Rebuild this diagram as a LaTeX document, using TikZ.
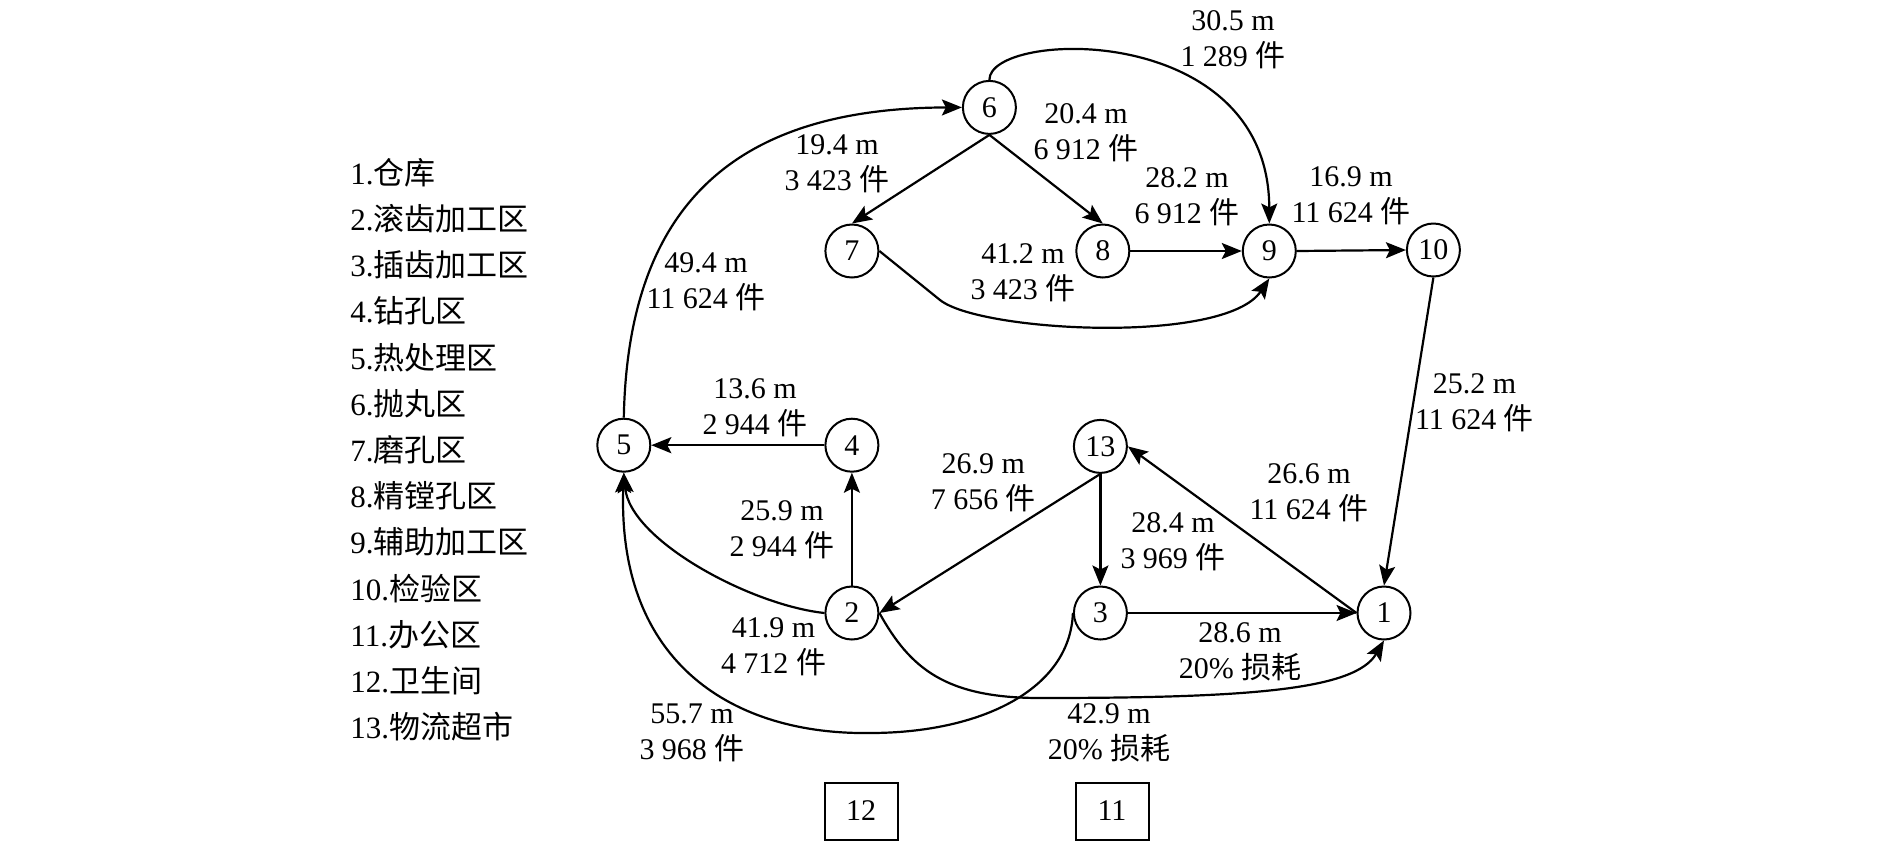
\documentclass[tikz,border=0pt]{standalone}
\usepackage{fontspec}
\setmainfont{Liberation Serif}
\newfontfamily\cjk{Noto Sans CJK SC}
\usetikzlibrary{arrows.meta}
\newcommand\zh[1]{{\cjk #1}}
\begin{document}
\begin{tikzpicture}[x=0.5pt,y=-0.5pt,
  area/.style={circle, draw, line width=1pt, minimum size=26.5pt, inner sep=0pt, font=\fontsize{15}{18}\selectfont},
  room/.style={rectangle, draw, line width=1pt, minimum width=36.5pt, minimum height=28.5pt, inner sep=0pt, font=\fontsize{15}{18}\selectfont},
  flow/.style={line width=1.1pt, -{Stealth[length=10pt,width=8pt,inset=2pt]}},
  lbl/.style={align=center, inner sep=0pt, font=\fontsize{15}{18}\selectfont},
  legend/.style={anchor=west, inner sep=0pt, font=\fontsize{15.5}{18}\selectfont}]
\useasboundingbox (0,0) rectangle (1892,842);

% legend
\node[legend] (L1)  at (350,172.5) {1.\zh{仓库}};
\node[legend] (L2)  at (350,218.7) {2.\zh{滚齿加工区}};
\node[legend] (L3)  at (350,264.9) {3.\zh{插齿加工区}};
\node[legend] (L4)  at (350,311.1) {4.\zh{钻孔区}};
\node[legend] (L5)  at (350,357.3) {5.\zh{热处理区}};
\node[legend] (L6)  at (350,403.5) {6.\zh{抛丸区}};
\node[legend] (L7)  at (350,449.7) {7.\zh{磨孔区}};
\node[legend] (L8)  at (350,495.9) {8.\zh{精镗孔区}};
\node[legend] (L9)  at (350,542.1) {9.\zh{辅助加工区}};
\node[legend] (L10) at (350,588.3) {10.\zh{检验区}};
\node[legend] (L11) at (350,634.5) {11.\zh{办公区}};
\node[legend] (L12) at (350,680.7) {12.\zh{卫生间}};
\node[legend] (L13) at (350,726.9) {13.\zh{物流超市}};

% areas
\node[area] (n6)  at (989.4,107.4) {6};
\node[area] (n7)  at (851.9,251) {7};
\node[area] (n8)  at (1102.8,251) {8};
\node[area] (n9)  at (1269.3,251) {9};
\node[area] (n10) at (1433.4,250) {10};
\node[area] (n5)  at (623.8,445.2) {5};
\node[area] (n4)  at (851.9,445.2) {4};
\node[area] (n13) at (1100.4,446.4) {13};
\node[area] (n2)  at (851.9,613) {2};
\node[area] (n3)  at (1100.4,613) {3};
\node[area] (n1)  at (1384,613) {1};
\node[room] (r12) at (861,811) {12};
\node[room] (r11) at (1112,811) {11};

% helper coordinates
\coordinate (k79) at (940,300);
\coordinate (k21) at (1040,698);
\coordinate (k35) at (870,733);

% connectors
\draw[flow] (n5.north) .. controls (628,200) and (740,108) .. (n6.west);
\draw[flow] (n6.south) -- (n7.north);
\draw[flow] (n6.south) -- (n8.north);
\draw[flow] (n6.north) .. controls (989,30) and (1269,20) .. (n9.north);
\draw[flow] (n7.east) -- (k79) .. controls (980,332) and (1225,345) .. (n9.south);
\draw[flow] (n8.east) -- (n9.west);
\draw[flow] (n9.east) -- (n10.west);
\draw[flow] (n10.south) -- (n1.north);
\draw[flow] (n4.west) -- (n5.east);
\draw[flow] (n2.north) -- (n4.south);
\draw[flow] (n2.west) .. controls (750,605) and (630,540) .. (n5.south);
\draw[flow] (n3.west) .. controls (1070,690) and (980,733) .. (k35) .. controls (735,735) and (617,665) .. (n5.south);
\draw[flow] (n2.east) .. controls (910,668) and (945,698) .. (k21) .. controls (1250,698) and (1355,690) .. (n1.south);
\draw[flow] (n13.south) -- (n2.east);
\draw[flow] (n13.south) -- (n3.north);
\draw[flow] (n1.west) -- (n13.east);
\draw[flow] (n3.east) -- (n1.west);

% labels
\node[lbl] (t69)  at (1233,39.5) {30.5 m\\1 289 \zh{件}};
\node[lbl] (t67)  at (837,163.5) {19.4 m\\3 423 \zh{件}};
\node[lbl] (t68)  at (1086,133) {20.4 m\\6 912 \zh{件}};
\node[lbl] (t89)  at (1187,197) {28.2 m\\6 912 \zh{件}};
\node[lbl] (t910) at (1351,196) {16.9 m\\11 624 \zh{件}};
\node[lbl] (t79)  at (1023,273) {41.2 m\\3 423 \zh{件}};
\node[lbl] (t56)  at (706,282) {49.4 m\\11 624 \zh{件}};
\node[lbl] (t101) at (1474.5,403) {25.2 m\\11 624 \zh{件}};
\node[lbl] (t45)  at (755,408) {13.6 m\\2 944 \zh{件}};
\node[lbl] (t132) at (983.4,482.6) {26.9 m\\7 656 \zh{件}};
\node[lbl] (t113) at (1309,493) {26.6 m\\11 624 \zh{件}};
\node[lbl] (t24)  at (782,530) {25.9 m\\2 944 \zh{件}};
\node[lbl] (t133) at (1173,542) {28.4 m\\3 969 \zh{件}};
\node[lbl] (t25)  at (773.5,647) {41.9 m\\4 712 \zh{件}};
\node[lbl] (t31)  at (1240,652) {28.6 m\\20\% \zh{损耗}};
\node[lbl] (t35)  at (692,733) {55.7 m\\3 968 \zh{件}};
\node[lbl] (t21)  at (1109,733) {42.9 m\\20\% \zh{损耗}};
\end{tikzpicture}
\end{document}
